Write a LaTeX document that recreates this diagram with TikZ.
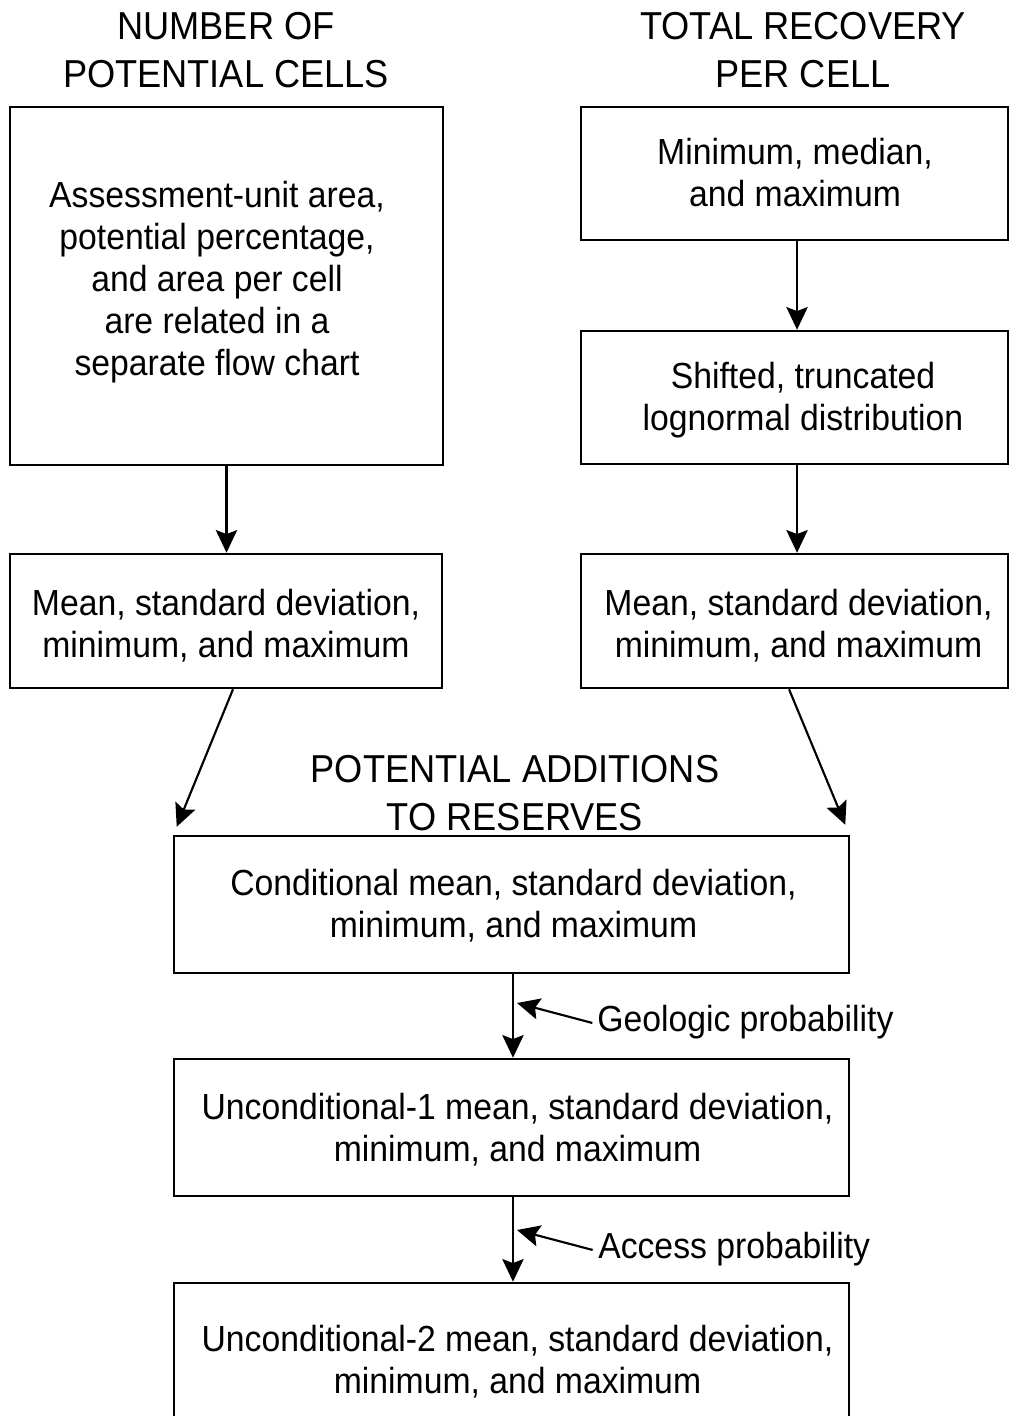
\documentclass[tikz,border=0pt]{standalone}
\usepackage{fontspec}
\setmainfont{Liberation Sans}[FakeStretch=0.93]
\usetikzlibrary{arrows.meta,fit}
\tikzset{
  box/.style={draw, line width=1.9pt, inner sep=0pt, rectangle},
  arr/.style={line width=1.6pt, -{Stealth[length=17pt,width=16pt,inset=3pt]}},
  txt/.style={anchor=base, inner sep=0pt, font=\fontsize{27.2}{31.5}\selectfont},
  ttl/.style={anchor=base, inner sep=0pt, font=\fontsize{29.2}{36}\selectfont},
  lbl/.style={anchor=base west, inner sep=0pt, font=\fontsize{27.2}{31.5}\selectfont}
}
\newcommand{\mylines}[1]{\begin{tabular}[t]{@{}c@{}}#1\end{tabular}}
\begin{document}
\begin{tikzpicture}[x=0.75pt,y=-0.75pt]
\useasboundingbox (0,0) rectangle (1010,1416);
\clip (0,0) rectangle (1010,1416);

% titles
\node[ttl] (t1) at (226,40) {\mylines{NUMBER OF\\POTENTIAL CELLS}};
\node[ttl] (t2) at (803,40) {\mylines{TOTAL RECOVERY\\PER CELL}};
\node[ttl] (t3) at (515,782) {\mylines{POTENTIAL ADDITIONS\\TO RESERVES}};

% boxes
\node[box, fit={(10,107)(443,465)}] (A) {};
\node[box, fit={(581,107)(1008,240)}] (B) {};
\node[box, fit={(581,331)(1008,464)}] (C) {};
\node[box, fit={(10,554)(442,688)}] (D) {};
\node[box, fit={(581,554)(1008,688)}] (E) {};
\node[box, fit={(174,836)(849,973)}] (F) {};
\node[box, fit={(174,1059)(849,1196)}] (G) {};
\node[box, fit={(174,1283)(849,1460)}] (H) {};

% box texts
\node[txt] (tA) at (217,207) {\mylines{Assessment-unit area,\\potential percentage,\\and area per cell\\are related in a\\separate flow chart}};
\node[txt] (tB) at (795,165) {\mylines{Minimum, median,\\and maximum}};
\node[txt] (tC) at (803,388) {\mylines{Shifted, truncated\\lognormal distribution}};
\node[txt] (tD) at (226,615) {\mylines{Mean, standard deviation,\\minimum, and maximum}};
\node[txt] (tE) at (798.5,615) {\mylines{Mean, standard deviation,\\minimum, and maximum}};
\node[txt] (tF) at (513.5,895) {\mylines{Conditional mean, standard deviation,\\minimum, and maximum}};
\node[txt] (tG) at (517.5,1119) {\mylines{Unconditional-1 mean, standard deviation,\\minimum, and maximum}};
\node[txt] (tH) at (517.5,1351) {\mylines{Unconditional-2 mean, standard deviation,\\minimum, and maximum}};

% side labels
\node[lbl] (geo) at (597,1031) {Geologic probability};
\node[lbl] (acc) at (598,1258) {Access probability};
\coordinate (gtip) at (517,1003);
\coordinate (atip) at (517,1230);

% connectors
\draw[arr] (A.south) -- (A.south |- D.north);
\draw[arr] ([xshift=1.9pt]B.south) -- ([xshift=1.9pt]B.south |- C.north);
\draw[arr] ([xshift=1.9pt]C.south) -- ([xshift=1.9pt]C.south |- E.north);
\draw[arr] ([xshift=5.25pt]D.south) -- ([xshift=3pt,yshift=6pt]F.north west);
\draw[arr] ([xshift=-4.1pt]E.south) -- ([xshift=-3.75pt,yshift=7.5pt]F.north east);
\draw[arr] ([xshift=1.1pt]F.south) -- ([xshift=1.1pt]F.south |- G.north);
\draw[arr] ([xshift=1.1pt]G.south) -- ([xshift=1.1pt]G.south |- H.north);
\draw[arr] ([xshift=-3.5pt,yshift=-1pt]geo.west) -- (gtip);
\draw[arr] ([xshift=-4pt,yshift=-1pt]acc.west) -- (atip);
\end{tikzpicture}
\end{document}
